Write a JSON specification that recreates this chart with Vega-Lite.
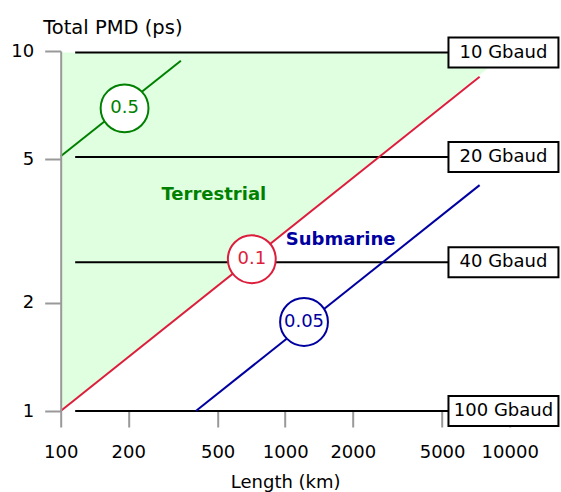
{
  "$schema": "https://vega.github.io/schema/vega-lite/v6.json",
  "autosize": "none",
  "width": 449,
  "height": 360,
  "padding": {"left": 60.7, "top": 51, "right": 51.3, "bottom": 81},
  "config": {"view": {"stroke": null}, "font": "DejaVu Sans"},
  "datasets": {
    "fill": [{"x": 100, "y": 1, "y2": 9.9}, {"x": 9780, "y": 9.9, "y2": 9.9}],
    "rules": [
      {"x": 116, "x2": 9380, "y": 9.9, "label": "10 Gbaud"},
      {"x": 116, "x2": 9380, "y": 5.08, "label": "20 Gbaud"},
      {"x": 116, "x2": 9380, "y": 2.59, "label": "40 Gbaud"},
      {"x": 116, "x2": 9380, "y": 1, "label": "100 Gbaud"}
    ],
    "lines": [
      {"s": "g", "x": 100, "y": 5.1}, {"s": "g", "x": 343, "y": 9.4},
      {"s": "r", "x": 100, "y": 1}, {"s": "r", "x": 7345, "y": 8.48},
      {"s": "b", "x": 400, "y": 1}, {"s": "b", "x": 7345, "y": 4.24}
    ],
    "circles": [
      {"s": "g", "x": 192.5, "y": 6.93, "label": "0.5"},
      {"s": "r", "x": 710, "y": 2.64, "label": "0.1"},
      {"s": "b", "x": 1213, "y": 1.767, "label": "0.05"}
    ],
    "regions": [
      {"s": "g", "x": 481, "y": 3.99, "label": "Terrestrial"},
      {"s": "b", "x": 1765, "y": 2.985, "label": "Submarine"}
    ]
  },
  "encoding": {
    "x": {
      "field": "x", "type": "quantitative",
      "scale": {"type": "log", "domain": [100, 10000], "nice": false},
      "axis": {
        "values": [100, 200, 500, 1000, 2000, 5000, 10000],
        "format": "d", "grid": false, "domain": false,
        "tickColor": "#999999", "tickWidth": 2, "tickSize": 16,
        "labelFont": "DejaVu Sans", "labelFontSize": 18, "labelColor": "#000000",
        "labelPadding": 16, "labelFlush": false, "labelOverlap": false,
        "title": "Length (km)", "titleFont": "DejaVu Sans", "titleFontSize": 18,
        "titleFontWeight": "normal", "titleColor": "#000000",
        "titleBaseline": "alphabetic", "titleY": 76
      }
    },
    "y": {
      "field": "y", "type": "quantitative",
      "scale": {"type": "log", "domain": [1, 10], "nice": false},
      "axis": {
        "values": [1, 2, 5, 10], "format": "d", "grid": false, "zindex": 1,
        "domainColor": "#999999", "domainWidth": 2,
        "tickColor": "#999999", "tickWidth": 2, "tickSize": 16,
        "labelFont": "DejaVu Sans", "labelFontSize": 18, "labelColor": "#000000",
        "labelPadding": 11, "labelFlush": false, "labelOverlap": false,
        "title": "Total PMD (ps)", "titleFont": "DejaVu Sans", "titleFontSize": 19.5,
        "titleFontWeight": "normal", "titleColor": "#000000",
        "titleAngle": 0, "titleAlign": "left", "titleBaseline": "alphabetic",
        "titleX": -18, "titleY": -18
      }
    }
  },
  "layer": [
    {
      "data": {"name": "fill"},
      "mark": {"type": "area", "color": "#e0ffe0", "opacity": 1},
      "encoding": {"y2": {"field": "y2"}}
    },
    {
      "data": {"name": "rules"},
      "mark": {"type": "rule", "color": "#000000", "strokeWidth": 2},
      "encoding": {"x2": {"field": "x2"}}
    },
    {
      "data": {"name": "lines"},
      "mark": {"type": "line", "strokeWidth": 2},
      "encoding": {
        "color": {"field": "s", "type": "nominal", "scale": {"domain": ["g", "r", "b"], "range": ["#008000", "#dc1e3c", "#0000a0"]}, "legend": null}
      }
    },
    {
      "data": {"name": "circles"},
      "mark": {"type": "point", "shape": "circle", "size": 2290, "filled": false, "fill": "#ffffff", "fillOpacity": 1, "strokeWidth": 2, "opacity": 1},
      "encoding": {
        "color": {"field": "s", "type": "nominal", "scale": {"domain": ["g", "r", "b"], "range": ["#008000", "#dc1e3c", "#0000a0"]}, "legend": null}
      }
    },
    {
      "data": {"name": "circles"},
      "mark": {"type": "text", "fontSize": 18, "font": "DejaVu Sans", "align": "center", "baseline": "middle"},
      "encoding": {
        "text": {"field": "label"},
        "color": {"field": "s", "type": "nominal", "scale": {"domain": ["g", "r", "b"], "range": ["#008000", "#dc1e3c", "#0000a0"]}, "legend": null}
      }
    },
    {
      "data": {"name": "regions"},
      "mark": {"type": "text", "fontSize": 18, "font": "DejaVu Sans", "fontWeight": "bold", "align": "center", "baseline": "middle"},
      "encoding": {
        "text": {"field": "label"},
        "color": {"field": "s", "type": "nominal", "scale": {"domain": ["g", "r", "b"], "range": ["#008000", "#dc1e3c", "#0000a0"]}, "legend": null}
      }
    },
    {
      "data": {"name": "rules"},
      "mark": {"type": "point", "shape": "M-1.833,-0.5H1.833V0.5H-1.833Z", "size": 3600, "filled": false, "fill": "#ffffff", "fillOpacity": 1, "stroke": "#000000", "strokeWidth": 2, "opacity": 1},
      "encoding": {"x": {"field": "x2", "type": "quantitative"}}
    },
    {
      "data": {"name": "rules"},
      "mark": {"type": "text", "fontSize": 18, "font": "DejaVu Sans", "align": "center", "baseline": "middle", "color": "#000000"},
      "encoding": {"x": {"field": "x2", "type": "quantitative"}, "text": {"field": "label"}}
    }
  ]
}
